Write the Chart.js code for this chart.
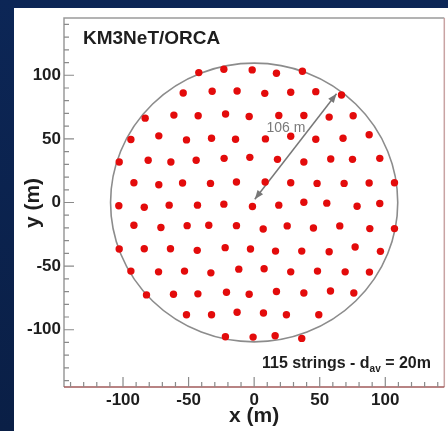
<!DOCTYPE html>
<html lang="en">
<head>
<meta charset="UTF-8">
<title>KM3NeT/ORCA footprint</title>
<script src="https://cdn.jsdelivr.net/npm/chart.js"></script>
<style>
  body { margin: 0; background: #0b2452; }
  canvas { display: block; }
</style>
</head>
<body>
  <canvas id="chart" width="448" height="431"></canvas>

  <script>
    // positions of the strings (m), read row by row from the top
    const posX = [
      -42.2, -23.1, -1.5, 17.0, 36.8,
      -54.1, -32.0, -13.0, 8.1, 27.9, 47.0, 66.6,
      -83.1, -61.2, -42.7, -21.8, -3.8, 18.8, 37.9, 57.2, 75.5,
      -94.0, -72.7, -51.6, -32.5, -14.2, 8.6, 27.9, 47.0, 67.8, 87.7,
      -102.9, -80.8, -63.5, -44.2, -22.9, -3.3, 17.8, 37.9, 58.4, 75.0, 95.8,
      -91.7, -72.7, -54.6, -33.3, -13.5, 8.4, 27.9, 48.0, 68.6, 87.7, 107.0,
      -103.2, -83.8, -64.8, -43.2, -23.1, -1.3, 18.8, 37.9, 55.4, 78.5, 95.8,
      -91.7, -71.1, -51.1, -34.6, -13.5, 6.9, 25.2, 45.2, 65.3, 88.2, 107.0,
      -102.9, -83.8, -63.8, -43.4, -22.1, -2.8, 16.3, 36.3, 57.2, 77.0, 96.3,
      -94.0, -72.9, -53.1, -33.0, -11.7, 7.6, 27.9, 48.3, 69.4, 87.9,
      -82.1, -61.5, -42.9, -21.1, -3.8, 17.0, 37.9, 58.2, 76.0,
      -51.6, -32.5, -13.0, 7.1, 24.6, 49.3,
      -21.9, -0.8, 16.0, 36.3
    ];
    const posY = [
      102.1, 104.7, 104.2, 101.6, 103.2,
      86.1, 87.4, 87.6, 85.8, 86.6, 87.1, 84.5,
      66.3, 68.7, 68.2, 69.5, 67.6, 68.4, 68.4, 67.1, 68.2,
      49.5, 52.4, 49.2, 50.5, 49.7, 50.0, 52.1, 49.7, 50.5, 53.2,
      31.8, 33.2, 31.8, 33.2, 34.7, 35.5, 33.9, 31.8, 34.2, 33.9, 34.7,
      15.5, 13.9, 15.3, 15.0, 16.1, 16.1, 15.5, 15.0, 15.0, 15.3, 15.5,
      -2.6, -3.7, -2.1, -2.1, -1.3, -3.2, -2.1, 0.2, -0.5, -2.9, -0.8,
      -17.9, -19.7, -18.2, -17.9, -18.2, -20.8, -18.4, -20.0, -18.4, -20.5, -20.5,
      -36.6, -36.3, -36.3, -37.6, -35.5, -36.6, -38.2, -38.2, -38.7, -35.0, -38.4,
      -53.9, -54.5, -53.9, -55.3, -52.4, -52.1, -54.5, -53.9, -54.5, -54.7,
      -72.6, -72.1, -71.8, -70.5, -72.1, -70.0, -71.1, -69.5, -71.1,
      -88.2, -88.2, -86.3, -86.8, -88.2, -88.2,
      -105.5, -105.8, -104.7, -106.8
    ];

    const xTicks = [-100, -50, 0, 50, 100];
    const yTicks = [-100, -50, 0, 50, 100];
    const axisMin = -145;
    const axisMax = 145;

    const circleRadius = 109.5;               // detector boundary, m
    const arrowFrom = [0.5, 2.6];
    const arrowTo = [62.8, 85.5];
    const arrowLabel = '106 m';

    const FONT = '"Liberation Sans", Arial, Helvetica, sans-serif';

    function arrowHead(ctx, x1, y1, x2, y2) {
      const a = Math.atan2(y2 - y1, x2 - x1);
      const len = 9, w = 3.5;
      ctx.beginPath();
      ctx.moveTo(x2, y2);
      ctx.lineTo(x2 - len * Math.cos(a) + w * Math.sin(a), y2 - len * Math.sin(a) - w * Math.cos(a));
      ctx.lineTo(x2 - len * Math.cos(a) - w * Math.sin(a), y2 - len * Math.sin(a) + w * Math.cos(a));
      ctx.closePath();
      ctx.fill();
    }

    // ROOT-like frame, inner ticks, circle, arrow and texts
    const decor = {
      id: 'decor',
      beforeDraw(chart) {
        const ctx = chart.ctx;
        ctx.save();
        const g = ctx.createLinearGradient(0, 0, 0, chart.height);
        g.addColorStop(0, '#0c2656');
        g.addColorStop(1, '#0a1f46');
        ctx.fillStyle = g;
        ctx.fillRect(0, 0, chart.width, chart.height);
        ctx.fillStyle = '#ffffff';
        ctx.fillRect(14, 8, chart.width - 14, chart.height - 8);
        ctx.restore();
      },
      beforeDatasetsDraw(chart) {
        const ctx = chart.ctx;
        const {left, right, top, bottom} = chart.chartArea;
        const sx = chart.scales.x, sy = chart.scales.y;
        ctx.save();

        // circle
        const cx = sx.getPixelForValue(0), cy = sy.getPixelForValue(0);
        const rx = sx.getPixelForValue(circleRadius) - cx;
        const ry = cy - sy.getPixelForValue(circleRadius);
        ctx.strokeStyle = '#8c8c8c';
        ctx.lineWidth = 1.6;
        ctx.beginPath();
        ctx.ellipse(cx, cy, rx, ry, 0, 0, Math.PI * 2);
        ctx.stroke();

        // frame
        ctx.lineWidth = 1.5;
        ctx.strokeStyle = '#9a9a9a';
        ctx.beginPath();
        ctx.moveTo(left, bottom);
        ctx.lineTo(left, top);
        ctx.lineTo(right, top);
        ctx.stroke();
        ctx.strokeStyle = '#c9a3a3';
        ctx.beginPath();
        ctx.moveTo(right, top);
        ctx.lineTo(right, bottom);
        ctx.stroke();
        ctx.strokeStyle = '#a05a5a';
        ctx.beginPath();
        ctx.moveTo(left, bottom);
        ctx.lineTo(right, bottom);
        ctx.stroke();

        // inner ticks
        ctx.strokeStyle = '#8a8a8a';
        ctx.lineWidth = 1.2;
        for (let v = -140; v <= 140; v += 10) {
          const len = v % 50 === 0 ? 10 : 5;
          const px = sx.getPixelForValue(v);
          const py = sy.getPixelForValue(v);
          ctx.beginPath();
          ctx.moveTo(px, bottom);
          ctx.lineTo(px, bottom - len);
          ctx.moveTo(left, py);
          ctx.lineTo(left + len, py);
          ctx.stroke();
        }

        // arrow
        const x1 = sx.getPixelForValue(arrowFrom[0]), y1 = sy.getPixelForValue(arrowFrom[1]);
        const x2 = sx.getPixelForValue(arrowTo[0]), y2 = sy.getPixelForValue(arrowTo[1]);
        ctx.strokeStyle = '#777777';
        ctx.fillStyle = '#777777';
        ctx.lineWidth = 1.5;
        ctx.beginPath();
        ctx.moveTo(x1, y1);
        ctx.lineTo(x2, y2);
        ctx.stroke();
        arrowHead(ctx, x1, y1, x2, y2);
        arrowHead(ctx, x2, y2, x1, y1);
        ctx.restore();
      },
      afterDraw(chart) {
        const ctx = chart.ctx;
        ctx.save();
        ctx.fillStyle = '#1e1e1e';

        ctx.font = 'bold 19px ' + FONT;
        ctx.textAlign = 'left';
        ctx.textBaseline = 'alphabetic';
        ctx.fillText('KM3NeT/ORCA', 83, 44);

        ctx.font = 'bold 21px ' + FONT;
        ctx.textAlign = 'center';
        ctx.textBaseline = 'middle';
        ctx.fillText('x (m)', (chart.chartArea.left + chart.chartArea.right) / 2, 416);
        ctx.save();
        ctx.translate(33, 203);
        ctx.rotate(-Math.PI / 2);
        ctx.fillText('y (m)', 0, 0);
        ctx.restore();

        // bottom right label with subscript
        ctx.textAlign = 'left';
        ctx.textBaseline = 'alphabetic';
        let x = 262;
        const base = 368;
        ctx.font = 'bold 16px ' + FONT;
        const p1 = '115 strings - d';
        ctx.fillText(p1, x, base);
        x += ctx.measureText(p1).width;
        ctx.font = 'bold 10px ' + FONT;
        ctx.fillText('av', x, base + 4);
        x += ctx.measureText('av').width;
        ctx.font = 'bold 16px ' + FONT;
        ctx.fillText(' = 20m', x, base);

        // arrow label
        ctx.fillStyle = '#7a7a7a';
        ctx.font = '14px ' + FONT;
        ctx.textAlign = 'center';
        ctx.textBaseline = 'middle';
        ctx.fillText(arrowLabel, 286, 128);
        ctx.restore();
      }
    };

    const points = posX.map((x, i) => ({x: x, y: posY[i]}));

    const tickFont = {family: FONT, size: 17, weight: 'bold'};

    const ctx = document.getElementById('chart').getContext('2d');
    const chart = new Chart(ctx, {
      type: 'scatter',
      data: {
        datasets: [{
          data: points,
          pointRadius: 3.7,
          pointHoverRadius: 3.7,
          backgroundColor: '#e30b0b',
          borderColor: '#e30b0b',
          borderWidth: 0
        }]
      },
      options: {
        responsive: false,
        animation: false,
        events: [],
        layout: {padding: {top: 18, right: 3, left: 0, bottom: 0}},
        plugins: {legend: {display: false}, tooltip: {enabled: false}},
        scales: {
          x: {
            type: 'linear',
            min: axisMin,
            max: axisMax,
            afterFit: s => { s.height = 44; },
            afterBuildTicks: s => { s.ticks = xTicks.map(v => ({value: v})); },
            grid: {display: false, drawTicks: false},
            border: {display: false},
            ticks: {font: tickFont, color: '#1e1e1e', padding: 3, maxRotation: 0, autoSkip: false}
          },
          y: {
            type: 'linear',
            min: axisMin,
            max: axisMax,
            afterFit: s => { s.width = 64; },
            afterBuildTicks: s => { s.ticks = yTicks.map(v => ({value: v})); },
            grid: {display: false, drawTicks: false},
            border: {display: false},
            ticks: {font: tickFont, color: '#1e1e1e', padding: 3, autoSkip: false}
          }
        }
      },
      plugins: [decor]
    });
  </script>
</body>
</html>
